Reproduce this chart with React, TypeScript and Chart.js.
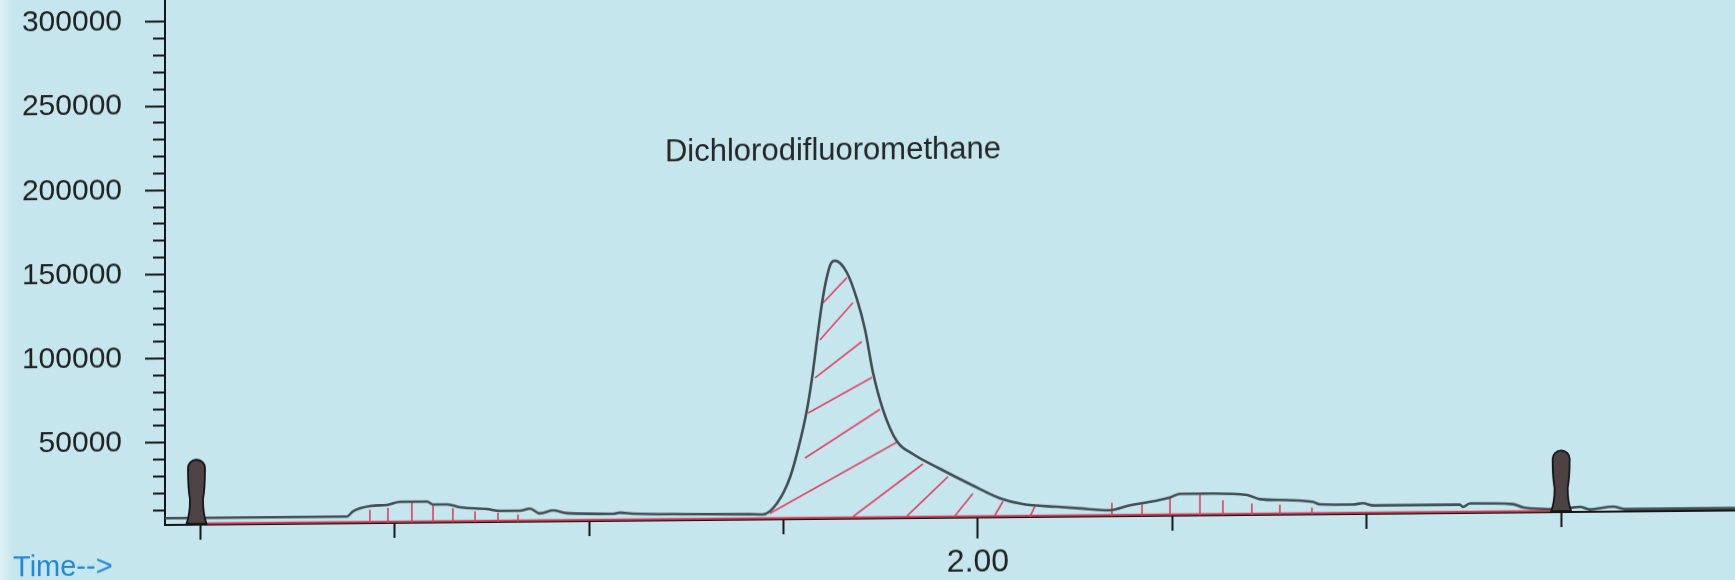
import React, { useEffect, useRef } from 'react';
import { Chart, registerables } from 'chart.js';

Chart.register(...registerables);

// ---- axis ranges / ticks ----
const xMin = 1.5818;
const xMax = 2.3894;
const yMin = 1200;
const yMax = 313000;
const xTickValues = [1.6, 1.7, 1.8, 1.9, 2.0, 2.1, 2.2, 2.3];
const xTickLabels = ['', '', '', '', '2.00', '', '', ''];
const yMajorTicks = [50000, 100000, 150000, 200000, 250000, 300000];
const yMinorStep = 10000;

// ---- signal (time in min, abundance) ----
const sigTime = [
  1.5818, 1.6, 1.6512, 1.6754, 1.6785, 1.6872, 1.696, 1.7027, 1.7166, 1.7197,
  1.7269, 1.7335, 1.7474, 1.7541, 1.7644, 1.7695, 1.7747, 1.7814, 1.7886, 1.8122,
  1.8158, 1.8225, 1.85, 1.8827, 1.8894, 1.8966, 1.9033, 1.9084, 1.912, 1.9146,
  1.9172, 1.9198, 1.9223, 1.9245, 1.9264, 1.9326, 1.9378, 1.9419, 1.946, 1.9511,
  1.9583, 1.9666, 1.9805, 1.9974, 2.0113, 2.0231, 2.0406, 2.0525, 2.0679, 2.0782,
  2.0869, 2.0988, 2.1039, 2.1209, 2.1384, 2.1451, 2.159, 2.1723, 2.1759, 2.1929,
  2.198, 2.2032, 2.2479, 2.2495, 2.2531, 2.2752, 2.2804, 2.2994, 2.3097, 2.3148,
  2.3267, 2.3328, 2.3894,
];
const sigValue = [
  5200, 5200, 5200, 5200, 8300, 11300, 11900, 13700, 13700, 11900,
  11900, 10100, 8900, 7700, 7700, 8900, 6000, 7700, 6000, 5400,
  6000, 5400, 4800, 4400, 4200, 10700, 26000, 47000, 65900, 84500,
  107500, 129500, 145000, 153200, 154500, 147300, 131300, 113500, 87900, 65900,
  46900, 39200, 30300, 20200, 12500, 8900, 7100, 6000, 4800, 7600,
  9200, 12100, 14100, 14100, 13100, 10500, 9800, 8600, 7100, 6800,
  7600, 6200, 6200, 4800, 6800, 6200, 4200, 3000, 4200, 2600,
  4200, 2600, 2600,
];

// ---- integration baseline ----
const baseStart = 1.6;
const baseEnd = 2.3;
const baseLevel = 2000;

// ---- main peak hatching: [t1, v1, t2, v2] ----
const peakHatchT1 = [1.9203, 1.9187, 1.9162, 1.9126, 1.911, 1.893, 1.9357, 1.9635, 1.9882, 2.0087, 2.0267];
const peakHatchV1 = [129500, 107500, 85000, 64200, 37400, 4800, 2400, 2400, 2400, 2400, 1200];
const peakHatchT2 = [1.9326, 1.9357, 1.9403, 1.9455, 1.9496, 1.9583, 1.9717, 1.9846, 1.9974, 2.0129, 2.0293];
const peakHatchV2 = [144400, 129500, 106300, 85000, 65900, 46300, 33300, 25600, 15500, 10700, 7700];

// ---- small hump hatching (vertical) ----
const humpHatchT = [
  1.6872, 1.6965, 1.7088, 1.7197, 1.7299, 1.7413, 1.7531, 1.7634,
  2.0689, 2.0844, 2.0988, 2.1142, 2.126, 2.1409, 2.1553, 2.1718,
];
const humpHatchTop = [
  9100, 10100, 13100, 11700, 9500, 7600, 6700, 5500,
  9200, 8100, 12100, 14100, 10100, 8100, 7100, 5200,
];

// ---- event markers ----
const markerTimes = [1.598, 2.3];
const markerTops = [39800, 37800];

// ---- annotation ----
const peakName = 'Dichlorodifluoromethane';
const peakLabelTime = 1.9254;
const peakLabelLevel = 219600;
const axisTitle = 'Time-->';

const FONT = '"Liberation Sans", Arial, Helvetica, sans-serif';

function drawMarker(ctx: CanvasRenderingContext2D, cx: number, top: number, bottom: number) {
  const h = bottom - top;
  const rt = 8.5;
  const neck = 6.5;
  const base = 10;
  ctx.beginPath();
  ctx.moveTo(cx - rt, top + rt);
  ctx.arc(cx, top + rt, rt, Math.PI, 0);
  ctx.quadraticCurveTo(cx + rt, top + h * 0.45, cx + neck, top + h * 0.62);
  ctx.quadraticCurveTo(cx + neck, top + h * 0.85, cx + base, bottom);
  ctx.lineTo(cx - base, bottom);
  ctx.quadraticCurveTo(cx - neck, top + h * 0.85, cx - neck, top + h * 0.62);
  ctx.quadraticCurveTo(cx - rt, top + h * 0.45, cx - rt, top + rt);
  ctx.closePath();
  ctx.fillStyle = '#4d4244';
  ctx.fill();
  ctx.lineWidth = 1.8;
  ctx.strokeStyle = '#161616';
  ctx.stroke();
}

const overlayPlugin = {
  id: 'overlay',
  afterDatasetsDraw(chart: any) {
    const { ctx } = chart;
    const xs = chart.scales.x;
    const ys = chart.scales.y;
    ctx.save();
    markerTimes.forEach((t, i) => {
      const px = xs.getPixelForValue(t);
      drawMarker(ctx, px, ys.getPixelForValue(markerTops[i]), ys.getPixelForValue(yMin) - 1);
    });
    ctx.font = `31px ${FONT}`;
    ctx.fillStyle = '#262626';
    ctx.textAlign = 'center';
    ctx.textBaseline = 'middle';
    ctx.fillText(peakName, xs.getPixelForValue(peakLabelTime), ys.getPixelForValue(peakLabelLevel));
    ctx.font = `29px ${FONT}`;
    ctx.fillStyle = '#2388d8';
    ctx.textAlign = 'left';
    ctx.fillText(axisTitle, 13, 567);
    ctx.restore();
  },
};

export default function App() {
  const canvasRef = useRef<HTMLCanvasElement | null>(null);

  useEffect(() => {
    const canvas = canvasRef.current;
    if (!canvas) return;

    const hatchRed = '#de4a64';
    const datasets: any[] = [
      {
        label: 'signal',
        data: sigTime.map((t, i) => ({ x: t, y: sigValue[i] })),
        borderColor: '#424e54',
        borderWidth: 2.6,
        pointRadius: 0,
        cubicInterpolationMode: 'monotone',
        fill: false,
      },
      {
        label: 'baseline',
        data: [
          { x: baseStart, y: baseLevel },
          { x: baseEnd, y: baseLevel },
        ],
        borderColor: '#d0405a',
        borderWidth: 2,
        pointRadius: 0,
      },
    ];
    peakHatchT1.forEach((t, i) => {
      datasets.push({
        label: 'hatch' + i,
        data: [
          { x: t, y: peakHatchV1[i] },
          { x: peakHatchT2[i], y: peakHatchV2[i] },
        ],
        borderColor: hatchRed,
        borderWidth: 1.7,
        pointRadius: 0,
      });
    });
    humpHatchT.forEach((t, i) => {
      datasets.push({
        label: 'vhatch' + i,
        data: [
          { x: t, y: yMin },
          { x: t, y: humpHatchTop[i] },
        ],
        borderColor: hatchRed,
        borderWidth: 1.7,
        pointRadius: 0,
      });
    });

    const yTickValues: number[] = [];
    for (let v = yMinorStep; v <= yMajorTicks[yMajorTicks.length - 1]; v += yMinorStep) yTickValues.push(v);

    const chart = new Chart(canvas, {
      type: 'line',
      data: { datasets },
      options: {
        animation: false,
        responsive: false,
        maintainAspectRatio: false,
        events: [],
        layout: { padding: 0 },
        plugins: {
          legend: { display: false },
          tooltip: { enabled: false },
          title: { display: false },
        },
        scales: {
          x: {
            type: 'linear',
            position: 'bottom',
            min: xMin,
            max: xMax,
            afterBuildTicks: (s: any) => {
              s.ticks = xTickValues.map((v) => ({ value: v }));
            },
            afterFit: (s: any) => {
              s.height = 55;
              s.paddingLeft = 0;
              s.paddingRight = 0;
            },
            grid: {
              drawOnChartArea: false,
              drawTicks: true,
              tickLength: 21,
              tickWidth: 2,
              tickColor: '#151515',
              tickBorderDash: (c: any) =>
                c.tick && Math.abs(c.tick.value - 2) < 1e-6 ? [] : [14, 100],
            },
            border: { display: true, color: '#151515', width: 2 },
            ticks: {
              autoSkip: false,
              maxRotation: 0,
              minRotation: 0,
              padding: 5,
              color: '#222',
              font: { family: FONT, size: 32 },
              callback: (_v: any, i: number) => xTickLabels[i] ?? '',
            },
          },
          y: {
            type: 'linear',
            min: yMin,
            max: yMax,
            afterBuildTicks: (s: any) => {
              s.ticks = yTickValues.map((v) => ({ value: v }));
            },
            afterFit: (s: any) => {
              s.width = 165;
              s.paddingTop = 0;
              s.paddingBottom = 0;
            },
            grid: {
              drawOnChartArea: false,
              drawTicks: true,
              tickLength: 20,
              tickWidth: 2,
              tickColor: '#151515',
              tickBorderDash: (c: any) =>
                c.tick && yMajorTicks.includes(c.tick.value) ? [] : [0, 8, 12, 100],
            },
            border: { display: true, color: '#151515', width: 2 },
            ticks: {
              autoSkip: false,
              padding: 23,
              color: '#222',
              font: { family: FONT, size: 30 },
              callback: (v: any) => (yMajorTicks.includes(Number(v)) ? String(v) : ''),
            },
          },
        },
      } as any,
      plugins: [overlayPlugin],
    });

    return () => chart.destroy();
  }, []);

  return (
    <div
      style={{
        position: 'fixed',
        left: 0,
        top: 0,
        width: 1735,
        height: 580,
        overflow: 'hidden',
        background: 'linear-gradient(to right, #e0f1f5 0px, #c5e6ed 14px)',
      }}
    >
      <div
        style={{
          position: 'absolute',
          left: 0,
          top: 0,
          width: 1735,
          height: 580,
          transform: 'skewY(-0.53deg)',
          transformOrigin: '165px 525px',
        }}
      >
        <canvas ref={canvasRef} width={1735} height={580} style={{ display: 'block' }} />
      </div>
    </div>
  );
}
